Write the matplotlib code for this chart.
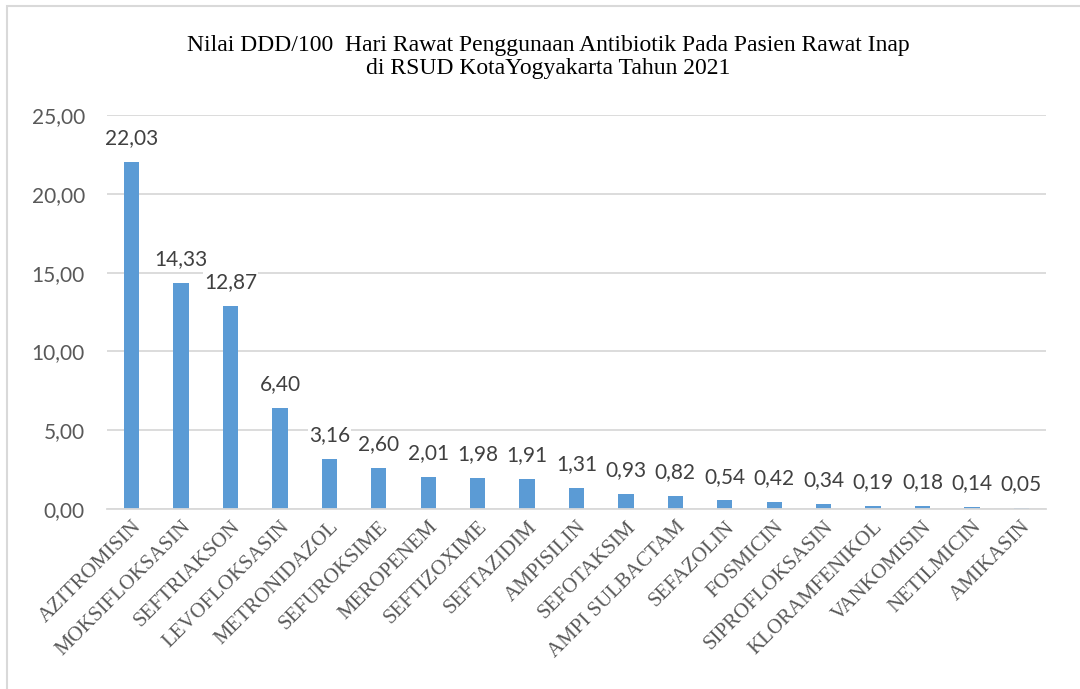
import matplotlib.pyplot as plt
from matplotlib.patches import Rectangle

obat = ["AZITROMISIN", "MOKSIFLOKSASIN", "SEFTRIAKSON", "LEVOFLOKSASIN", "METRONIDAZOL",
        "SEFUROKSIME", "MEROPENEM", "SEFTIZOXIME", "SEFTAZIDIM", "AMPISILIN", "SEFOTAKSIM",
        "AMPI SULBACTAM", "SEFAZOLIN", "FOSMICIN", "SIPROFLOKSASIN", "KLORAMFENIKOL",
        "VANKOMISIN", "NETILMICIN", "AMIKASIN"]
ddd = [22.03, 14.33, 12.87, 6.40, 3.16, 2.60, 2.01, 1.98, 1.91, 1.31, 0.93,
       0.82, 0.54, 0.42, 0.34, 0.19, 0.18, 0.14, 0.05]
yticks = [0, 5, 10, 15, 20, 25]

fig = plt.figure(figsize=(10.8, 6.89), dpi=100)
# frame around the chart area like the excel export
fig.patches.append(Rectangle((7/1080, -0.01), 1.02, 1 - 6/689 + 0.01, transform=fig.transFigure,
                             fill=False, edgecolor="#D9D9D9", lw=1.5))
ax = fig.add_axes([107/1080, 1 - 509/689, 939/1080, 394/689])

x = range(len(obat))
ax.bar(x, ddd, width=0.31, color="#5B9BD5", zorder=2)
ax.set_xlim(-0.5, len(obat) - 0.5)
ax.set_ylim(0, 25)
ax.set_yticks(yticks)
ax.set_yticklabels([f"{v:.2f}".replace(".", ",") for v in yticks],
                   fontfamily="Lato", fontsize=15, color="#595959")
ax.grid(axis="y", color="#D9D9D9", lw=1.3, zorder=0)
ax.set_axisbelow(True)
for s in ["top", "right", "left"]:
    ax.spines[s].set_visible(False)
ax.spines["bottom"].set_color("#D9D9D9")
ax.spines["bottom"].set_linewidth(1.3)
ax.tick_params(axis="y", length=0, pad=16)

ax.set_xticks(list(x))
ax.set_xticklabels(obat, rotation=45, ha="right", va="top", rotation_mode="anchor",
                   fontfamily="Liberation Serif", fontsize=15, color="#595959")
ax.tick_params(axis="x", length=0, pad=6)

for i, v in enumerate(ddd):
    ax.annotate(f"{v:.2f}".replace(".", ","), (i, v), xytext=(0, 10), textcoords="offset points",
                ha="center", va="bottom", fontfamily="Lato", fontsize=15, color="#404040",
                bbox=dict(boxstyle="square,pad=0.05", fc="white", ec="none"), zorder=3)

fig.text(0.508, 1 - 57/689, "Nilai DDD/100  Hari Rawat Penggunaan Antibiotik Pada Pasien Rawat Inap\n"
         "di RSUD KotaYogyakarta Tahun 2021", ha="center", va="center",
         fontfamily="Liberation Serif", fontsize=17, linespacing=1.1)

fig.savefig("out.png", dpi=100)
